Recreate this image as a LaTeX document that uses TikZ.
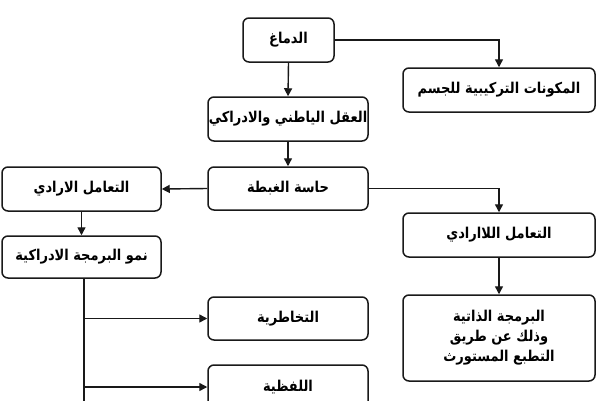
\documentclass[tikz,border=0pt]{standalone}
\usepackage{fontspec}
\TeXXeTstate=1
\newfontfamily\arabicfont[Script=Arabic]{DejaVu Sans}
\usetikzlibrary{arrows.meta}
\tikzset{
  box/.style={draw=black!90, line width=1.5pt, rounded corners=6pt, fill=white,
    inner sep=0pt, align=center, font=\arabicfont\bfseries\fontsize{13}{20}\selectfont},
  conn/.style={draw=black!90, line width=1.4pt, -{Triangle[length=8pt,width=8pt]}},
  plain/.style={draw=black!90, line width=1.4pt}
}
\newcommand{\ar}[1]{\scalebox{1}[1.15]{\beginR #1\endR}}
\begin{document}
\begin{tikzpicture}[x=1pt,y=-1pt]
\useasboundingbox (0,0) rectangle (600,400);
\clip (0,0) rectangle (600,400);
\fill[white] (0,0) rectangle (600,400);
\node[box, minimum width=91pt, minimum height=44pt] (brain) at (288.5,40) {\ar{الدماغ}};
\node[box, minimum width=192pt, minimum height=44pt] (body) at (499,90) {\ar{المكونات التركيبية للجسم}};
\node[box, minimum width=160pt, minimum height=44pt] (mind) at (288,119) {\ar{العقل الياطني والادراكي}};
\node[box, minimum width=160pt, minimum height=43pt] (sense) at (288,188.5) {\ar{حاسة الغبطة}};
\node[box, minimum width=159pt, minimum height=44pt] (vol) at (81.5,189) {\ar{التعامل الارادي}};
\node[box, minimum width=159pt, minimum height=42pt] (grow) at (81.5,257) {\ar{نمو البرمجة الادراكية}};
\node[box, minimum width=192pt, minimum height=44pt] (invol) at (499,235) {\ar{التعامل اللاارادي}};
\node[box, minimum width=192pt, minimum height=86pt] (self) at (499,338) {\ar{البرمجة الذاتية}\\ \ar{وذلك عن طريق}\\ \ar{التطبع المستورث}};
\node[box, minimum width=160pt, minimum height=43pt] (tele) at (288,318.5) {\ar{التخاطرية}};
\node[box, minimum width=160pt, minimum height=44pt] (verbal) at (288,387) {\ar{اللفظية}};
\coordinate (trunkend) at (84,405);
\coordinate (trunktop) at (84,278);
\draw[conn] (brain.east) -| (body.north);
\draw[conn] (brain.south) -- (mind.north);
\draw[conn] (mind.south) -- (sense.north);
\draw[conn] (sense.west) -- (vol.east);
\draw[conn] (vol.south) -- (grow.north);
\draw[conn] (sense.east) -| (invol.north);
\draw[conn] (invol.south) -- (self.north);
\draw[plain] (trunktop) -- (trunkend);
\draw[conn] (trunktop |- tele.west) -- (tele.west);
\draw[conn] (trunktop |- verbal.west) -- (verbal.west);
\end{tikzpicture}
\end{document}
